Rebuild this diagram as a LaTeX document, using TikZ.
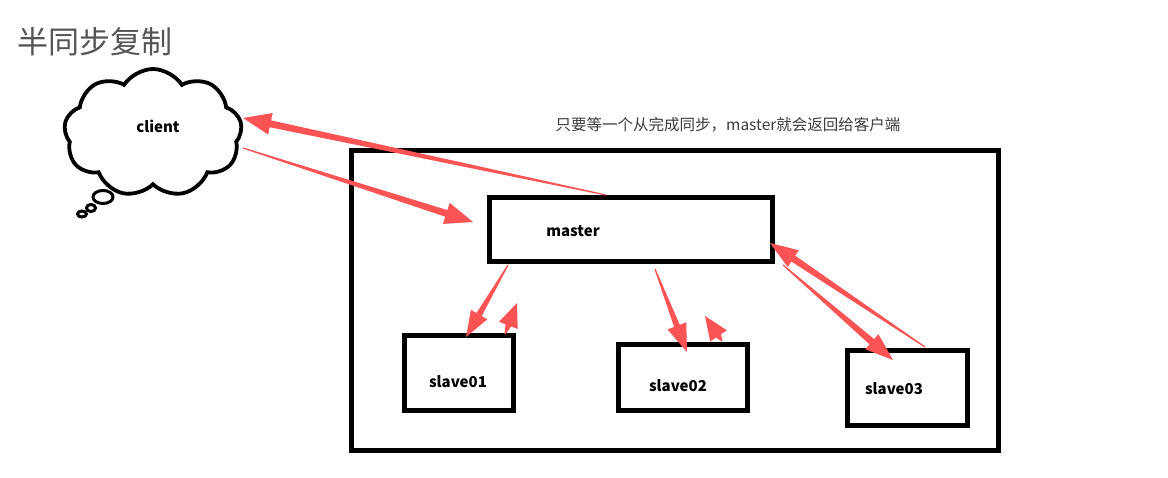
\documentclass[tikz,border=0pt]{standalone}
\usepackage{fontspec}
\setmainfont{Noto Sans CJK SC}
\usetikzlibrary{calc,shapes.symbols}
\definecolor{arr}{RGB}{252,84,84}
\definecolor{titlegray}{RGB}{85,85,85}
\definecolor{capgray}{RGB}{60,60,60}
\tikzset{
  box/.style={draw=black, line width=5pt, fill=none, inner sep=0pt},
  lbl/.style={font=\fontsize{15}{18}\selectfont\bfseries, inner sep=0pt},
  arrowred/.style={fill=arr, draw=none},
}
\newcommand{\taper}[5]{%
  \path ($(#2)!#3!(#1)$) coordinate (hb);
  \fill[arrowred] ($(#1)!0.6pt!90:(#2)$) -- ($(hb)!#5!90:(#2)$) -- ($(hb)!#4!90:(#2)$) -- (#2)
     -- ($(hb)!#4!-90:(#2)$) -- ($(hb)!#5!-90:(#2)$) -- ($(#1)!0.6pt!-90:(#2)$) -- cycle;
}
\begin{document}
\begin{tikzpicture}[x=1pt,y=-1pt]
\useasboundingbox[fill=white] (0,0) rectangle (1168,478);
% title
\node[anchor=west, inner sep=0pt, text=titlegray, font=\fontsize{31}{36}\selectfont] (title) at (17,42) {半同步复制};
% cloud
\node[cloud, cloud puffs=9, cloud puff arc=115, aspect=1.35, draw, line width=3.8pt,
      minimum width=178pt, minimum height=128pt] (client) at (153,133) {};
\draw[line width=3pt] (103,197) ellipse (10 and 6.5);
\draw[line width=3pt] (91,208) ellipse (4.5 and 3.5);
\draw[line width=3pt] (82,214) ellipse (4.5 and 3);
\node[lbl] (clienttxt) at (158,126) {client};
% caption
\node[inner sep=0pt, text=capgray, font=\fontsize{15.5}{18}\selectfont] (cap) at (728,125) {只要等一个从完成同步，master就会返回给客户端};
% boxes
\node[box, minimum width=647pt, minimum height=300pt] (outer) at (675,300.5) {};
\node[box, minimum width=283pt, minimum height=64pt] (master) at (631,229.5) {};
\node[lbl] (mastertxt) at (573,231) {master};
\node[box, minimum width=109pt, minimum height=75pt] (s1) at (459,373) {};
\node[lbl] (s1txt) at (458,382) {slave01};
\node[box, minimum width=129pt, minimum height=66pt] (s2) at (683,377.5) {};
\node[lbl] (s2txt) at (678,386) {slave02};
\node[box, minimum width=120pt, minimum height=75pt] (s3) at (907.5,388) {};
\node[lbl] (s3txt) at (894,389) {slave03};
% arrow end points
\coordinate (a1t) at (606,195); \coordinate (a1h) at (243,118);
\coordinate (a2t) at (243,148); \coordinate (a2h) at (473,222);
\coordinate (a3t) at (508,265); \coordinate (a3h) at (466,337);
\coordinate (a4t) at (505,334); \coordinate (a4h) at (517,303);
\coordinate (a5t) at (655,269); \coordinate (a5h) at (687,352);
\coordinate (a6t) at (722,341); \coordinate (a6h) at (705,316);
\coordinate (a7t) at (783,265); \coordinate (a7h) at (893,360);
\coordinate (a8t) at (925,347); \coordinate (a8h) at (770,243);
\taper{a1t}{a1h}{28pt}{11pt}{3.5pt}
\taper{a2t}{a2h}{28pt}{11pt}{3.5pt}
\taper{a3t}{a3h}{26pt}{9.5pt}{3pt}
\taper{a4t}{a4h}{24pt}{10pt}{3pt}
\taper{a5t}{a5h}{28pt}{10pt}{3pt}
\taper{a6t}{a6h}{24pt}{10pt}{3pt}
\taper{a7t}{a7h}{28pt}{10pt}{3.5pt}
\taper{a8t}{a8h}{28pt}{10pt}{3.5pt}
\end{tikzpicture}
\end{document}
